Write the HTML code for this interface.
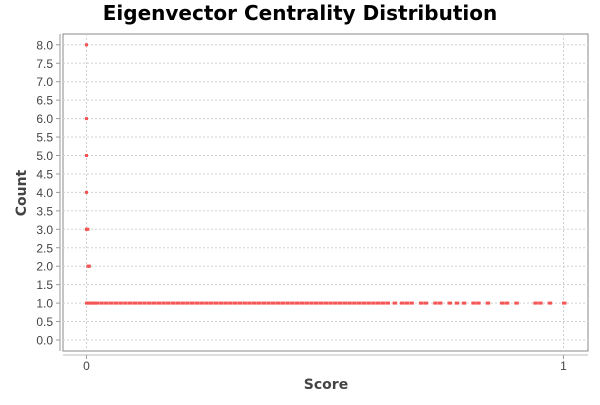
<!DOCTYPE html>
<html><head><meta charset="utf-8"><style>
body{margin:0;background:#fff;font-family:"Liberation Sans","DejaVu Sans",sans-serif}
</style></head><body>
<svg width="600" height="400" xmlns="http://www.w3.org/2000/svg" id="c">
<rect width="600" height="400" fill="#fff"/>
<text x="300" y="20" text-anchor="middle" font-size="20" font-weight="bold" font-family="DejaVu Sans, sans-serif">Eigenvector Centrality Distribution</text>
<rect x="63" y="34" width="525" height="317" fill="#fff" stroke="#888"/>
<g id="grid"></g><g id="pts"></g><g id="axes"></g>
<text x="326" y="389" text-anchor="middle" font-size="14" font-weight="bold" fill="#444" font-family="DejaVu Sans, sans-serif">Score</text>
<text transform="translate(26,193) rotate(-90)" text-anchor="middle" font-size="14" font-weight="bold" fill="#444" font-family="DejaVu Sans, sans-serif">Count</text>
</svg>
<script>
const yTicks=[0,0.5,1,1.5,2,2.5,3,3.5,4,4.5,5,5.5,6,6.5,7,7.5,8];
const xTicks=[0,1];
const highScores=[0,0,0,0,0,0,0.003,0.005,0.003,0.006];
const highCounts=[8,6,5,4,3,3,3,2,2,2];
const oneScores=[0,0.005,0.01,0.015,0.02,0.03,0.04,0.05,0.06,0.07,0.08,0.09,0.1,0.11,0.12,0.13,0.14,0.15,0.16,0.17,0.18,0.19,0.2,0.21,0.22,0.23,0.24,0.25,0.26,0.27,0.28,0.29,0.3,0.31,0.32,0.33,0.34,0.35,0.36,0.37,0.38,0.39,0.4,0.41,0.42,0.43,0.44,0.45,0.46,0.47,0.48,0.49,0.5,0.51,0.52,0.53,0.54,0.55,0.56,0.57,0.58,0.59,0.6,0.61,0.62,0.63,0.645,0.66,0.67,0.68,0.7,0.71,0.73,0.74,0.76,0.775,0.79,0.81,0.82,0.84,0.87,0.88,0.9,0.94,0.95,0.97,1.0];
const NS="http://www.w3.org/2000/svg";
const X=v=>86.5+v*477, Y=v=>340-v*36.9;
function mk(t,a,p){const e=document.createElementNS(NS,t);for(const k in a)e.setAttribute(k,a[k]);p.appendChild(e);return e;}
const g=document.getElementById('grid'),ax=document.getElementById('axes'),pts=document.getElementById('pts');
yTicks.forEach(t=>{
 const l=mk('line',{x1:63,x2:588,y1:Y(t),y2:Y(t),stroke:'#d0d0d0','stroke-dasharray':'2,2'},g);
 
 
 const tx=mk('text',{x:53,y:Y(t)+4.5,'text-anchor':'end','font-size':12,fill:'#444'},ax);
 tx.textContent=t.toFixed(1);
 
 
 mk('line',{x1:56,x2:60,y1:Y(t),y2:Y(t),stroke:'#999'},ax);
});
xTicks.forEach(t=>{
 const l=mk('line',{x1:X(t),x2:X(t),y1:34,y2:351,stroke:'#d0d0d0','stroke-dasharray':'2,2'},g);
 
 
 const tx=mk('text',{x:X(t),y:370,'text-anchor':'middle','font-size':12,fill:'#444'},ax);
 tx.textContent=String(t);
 
 
 mk('line',{x1:X(t),x2:X(t),y1:355,y2:359,stroke:'#999'},ax);
});
mk('line',{x1:60,x2:60,y1:34,y2:351,stroke:'#999'},ax);
mk('line',{x1:63,x2:588,y1:355,y2:355,stroke:'#bbb'},ax);
function pt(s,c,w){
 const r=mk('rect',{x:X(s)-1.5,y:Y(c)-1.5,width:w,height:3,fill:'#f55555'},pts);
 
 
}
highScores.forEach((s,i)=>pt(s,highCounts[i],3));
oneScores.forEach(s=>pt(s,1,4.5));
</script>
</body></html>
